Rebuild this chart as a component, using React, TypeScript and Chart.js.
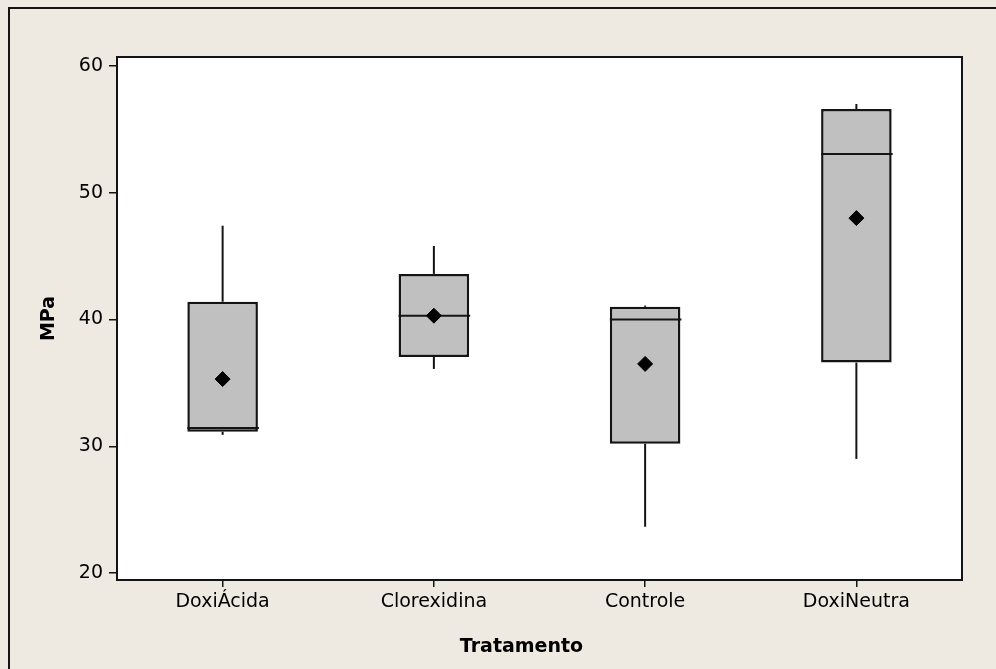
import React, { useEffect, useRef } from 'react';
import { Chart, registerables } from 'chart.js';

Chart.register(...registerables);

// ---- data ----
const categories = ['DoxiÁcida', 'Clorexidina', 'Controle', 'DoxiNeutra'];
const q1Values = [31.15, 37.05, 30.2, 36.6];
const q3Values = [41.4, 43.6, 41.0, 56.6];
const medianValues = [31.45, 40.3, 40.0, 53.05];
const minValues = [30.9, 36.1, 23.65, 29.0];
const maxValues = [47.4, 45.8, 41.1, 57.0];
const meanValues = [35.3, 40.3, 36.5, 48.0];
const yTicks = [20, 30, 40, 50, 60];
const xTitle = 'Tratamento';
const yTitle = 'MPa';

const FONT = "'DejaVu Sans', Verdana, sans-serif";
const INK = '#000000';
const LINE = '#141414';

const boxPlugin = {
  id: 'boxExtras',
  beforeDraw(chart: any) {
    const { ctx, chartArea: a, width, height } = chart;
    ctx.save();
    ctx.fillStyle = '#EEEAE1';
    ctx.fillRect(0, 0, width, height);
    ctx.strokeStyle = LINE;
    ctx.lineWidth = 2;
    ctx.beginPath();
    ctx.moveTo(9, height + 5);
    ctx.lineTo(9, 8);
    ctx.lineTo(width + 5, 8);
    ctx.stroke();
    ctx.fillStyle = '#ffffff';
    ctx.fillRect(a.left, a.top, a.right - a.left, a.bottom - a.top);
    ctx.restore();
  },
  afterDatasetDraw(chart: any, args: any) {
    if (args.index !== 0) return;
    const { ctx } = chart;
    const y = chart.scales.y;
    const meta = chart.getDatasetMeta(0);
    ctx.save();
    ctx.strokeStyle = LINE;
    const line = (x1: number, y1: number, x2: number, y2: number, w: number) => {
      ctx.lineWidth = w;
      ctx.beginPath();
      ctx.moveTo(x1, y1);
      ctx.lineTo(x2, y2);
      ctx.stroke();
    };
    meta.data.forEach((bar: any, i: number) => {
      const cx = bar.x;
      const half = bar.width / 2;
      const yq1 = y.getPixelForValue(q1Values[i]);
      const yq3 = y.getPixelForValue(q3Values[i]);
      line(cx, y.getPixelForValue(maxValues[i]), cx, yq3, 2);
      line(cx, y.getPixelForValue(minValues[i]), cx, yq1, 2);
      const ym = y.getPixelForValue(medianValues[i]);
      line(cx - half, ym, cx + half + 1, ym, 2);
    });
    ctx.restore();
  },
  afterDraw(chart: any) {
    const { ctx, chartArea: a } = chart;
    ctx.save();
    ctx.strokeStyle = LINE;
    ctx.lineWidth = 2;
    ctx.strokeRect(a.left, a.top, a.right - a.left, a.bottom - a.top);
    ctx.fillStyle = INK;
    ctx.font = `bold 19px ${FONT}`;
    ctx.textAlign = 'center';
    ctx.textBaseline = 'middle';
    ctx.fillText(xTitle, (a.left + a.right) / 2 - 18, 647);
    ctx.restore();
  },
};

export default function App() {
  const canvasRef = useRef<HTMLCanvasElement | null>(null);

  useEffect(() => {
    document.body.style.margin = '0';
    const canvas = canvasRef.current;
    if (!canvas) return;
    const chart = new Chart(canvas, {
      type: 'bar',
      data: {
        labels: categories,
        datasets: [
          {
            type: 'bar',
            label: 'box',
            data: categories.map((_, i) => [q1Values[i], q3Values[i]]),
            backgroundColor: '#C0C0C0',
            borderColor: LINE,
            borderWidth: 2.5,
            borderSkipped: false,
            categoryPercentage: 1,
            barPercentage: 0.334,
            order: 2,
          } as any,
          {
            type: 'line',
            label: 'mean',
            data: meanValues,
            showLine: false,
            pointStyle: 'rectRot',
            pointRadius: 7.5,
            pointBackgroundColor: '#000000',
            pointBorderColor: '#000000',
            pointBorderWidth: 1,
            order: 1,
          } as any,
        ],
      },
      options: {
        responsive: false,
        animation: false,
        devicePixelRatio: 1,
        layout: { padding: { top: 57, right: 34, left: 0, bottom: 0 } },
        plugins: {
          legend: { display: false },
          tooltip: { enabled: false },
          title: { display: false },
        },
        scales: {
          x: {
            type: 'category',
            offset: true,
            afterFit: (s: any) => {
              s.height = 89;
            },
            border: { display: false },
            grid: {
              offset: false,
              drawOnChartArea: false,
              drawTicks: true,
              tickLength: 7,
              color: LINE,
              lineWidth: 1.5,
            },
            ticks: {
              color: INK,
              font: { family: FONT, size: 19 },
              padding: 4,
              maxRotation: 0,
            },
          },
          y: {
            type: 'linear',
            min: 19.45,
            max: 60.71,
            afterBuildTicks: (s: any) => {
              s.ticks = yTicks.map((v) => ({ value: v }));
            },
            afterFit: (s: any) => {
              s.width = 117;
            },
            border: { display: false },
            grid: {
              drawOnChartArea: false,
              drawTicks: true,
              tickLength: 8,
              color: LINE,
              lineWidth: 1.5,
            },
            ticks: {
              color: INK,
              font: { family: FONT, size: 19 },
              padding: 6,
            },
            title: {
              display: true,
              text: yTitle,
              color: INK,
              font: { family: FONT, size: 19, weight: 'bold' },
              padding: { top: 38, bottom: 0 },
            },
          },
        },
      } as any,
      plugins: [boxPlugin],
    });
    return () => chart.destroy();
  }, []);

  return (
    <div style={{ width: 996, height: 669, position: 'relative' }}>
      <canvas ref={canvasRef} width={996} height={669} style={{ display: 'block' }} />
    </div>
  );
}
